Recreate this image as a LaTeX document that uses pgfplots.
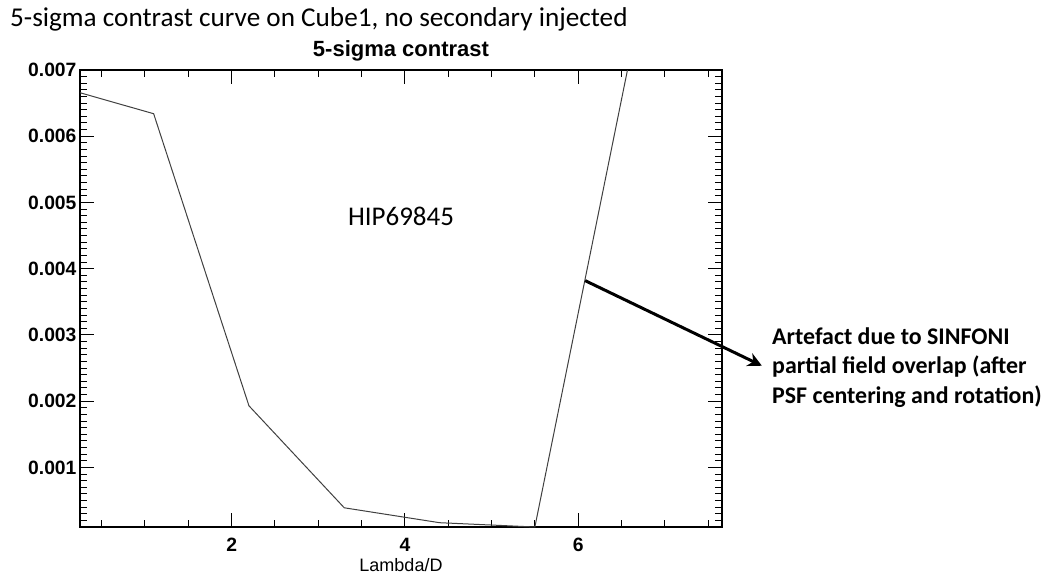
\documentclass[border=0pt]{standalone}
\usepackage{fontspec}
\setmainfont{Liberation Sans}
\newfontfamily\calibrifont{Carlito}
\usepackage{pgfplots}
\pgfplotsset{compat=1.18}
\usetikzlibrary{arrows.meta}
\begin{document}
\begin{tikzpicture}[x=1pt,y=1pt]
\path[use as bounding box] (0,0) rectangle (1049,579);
\begin{axis}[
  at={(80pt,52pt)}, anchor=south west,
  width=642pt, height=457pt, scale only axis,
  xmin=0.25, xmax=7.66, ymin=0.0001, ymax=0.007,
  clip=true,
  scaled y ticks=false, scaled x ticks=false,
  axis line style={black, line width=1.2pt},
  xtick={2,4,6}, xticklabels={2,4,6},
  minor xtick={0.5,1,1.5,2.5,3,3.5,4.5,5,5.5,6.5,7,7.5},
  ytick={0.001,0.002,0.003,0.004,0.005,0.006,0.007},
  yticklabels={0.001,0.002,0.003,0.004,0.005,0.006,0.007},
  minor ytick={0.0002,0.0003,0.0004,0.0005,0.0006,0.0007,0.0008,0.0009,
    0.0011,0.0012,0.0013,0.0014,0.0015,0.0016,0.0017,0.0018,0.0019,
    0.0021,0.0022,0.0023,0.0024,0.0025,0.0026,0.0027,0.0028,0.0029,
    0.0031,0.0032,0.0033,0.0034,0.0035,0.0036,0.0037,0.0038,0.0039,
    0.0041,0.0042,0.0043,0.0044,0.0045,0.0046,0.0047,0.0048,0.0049,
    0.0051,0.0052,0.0053,0.0054,0.0055,0.0056,0.0057,0.0058,0.0059,
    0.0061,0.0062,0.0063,0.0064,0.0065,0.0066,0.0067,0.0068,0.0069},
  tick align=inside,
  major tick length=14pt, minor tick length=7pt,
  tick style={black, line width=1pt},
  ticklabel style={font=\fontsize{19.3}{19.3}\selectfont\bfseries},
  /pgf/number format/assume math mode=true,
  xticklabel style={anchor=base, yshift=-24.5pt},
  yticklabel style={anchor=east, xshift=0pt},
  title={5-sigma contrast},
  title style={font=\fontsize{22}{22}\selectfont\bfseries, at={(0.5,1)}, anchor=base, yshift=7.5pt},
  xlabel={Lambda/D},
  xlabel style={font=\fontsize{18}{18}\selectfont, at={(0.5,0)}, anchor=base, yshift=-44pt},
]
\addplot[color=black!75, line width=1pt] coordinates {
  (0.0,0.00675) (1.1,0.00634) (2.2,0.00193) (3.3,0.00039) (4.4,0.000165) (5.5,0.0001) (6.6,0.0072) (7.7,0.0080)
};
\end{axis}
\begin{axis}[
  at={(80pt,52pt)}, anchor=south west,
  width=642pt, height=457pt, scale only axis,
  xmin=0.25, xmax=7.66, ymin=0.0001, ymax=0.007,
  axis lines=none, clip=false,
]
\draw[line width=3pt, -{Stealth[length=14pt,width=14pt]}] (axis cs:6.08,0.00382) -- (axis cs:8.12,0.002535);
\end{axis}
\node[anchor=base west, inner sep=0] at (10,552) {\calibrifont\fontsize{27.2}{27.2}\selectfont 5-sigma contrast curve on Cube1, no secondary injected};
\node[anchor=base, inner sep=0] at (401,353) {\calibrifont\fontsize{27}{27}\selectfont HIP69845};
\begin{scope}[every node/.style={anchor=base west, inner sep=0, font=\calibrifont\bfseries\fontsize{23.9}{23.9}\selectfont}]
\node at (772,235) {Artefact due to SINFONI};
\node at (772,205.5) {partial field overlap (after};
\node at (772,176) {PSF centering and rotation)};
\end{scope}
\end{tikzpicture}
\end{document}
